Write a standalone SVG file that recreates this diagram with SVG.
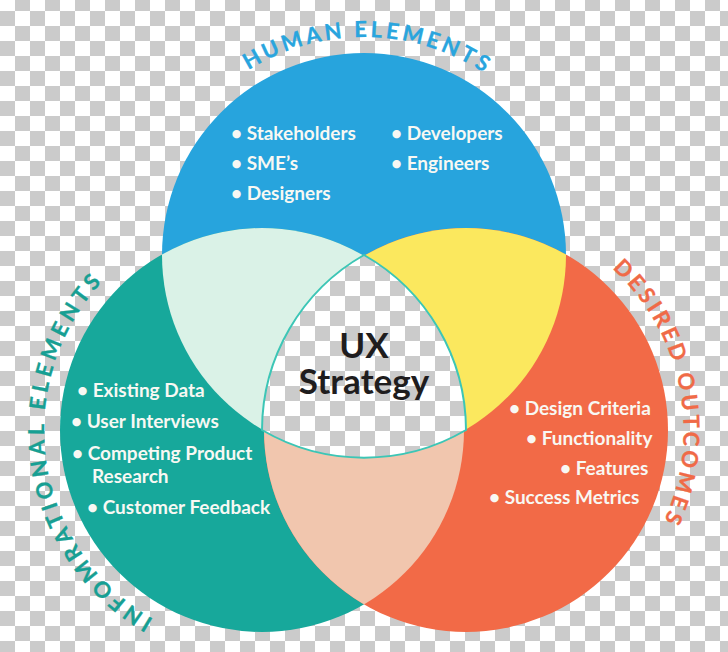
<svg xmlns="http://www.w3.org/2000/svg" xmlns:xlink="http://www.w3.org/1999/xlink" width="728" height="652" viewBox="0 0 728 652">
<style>
.bul{font-family:Lato,"Liberation Sans",sans-serif;font-weight:700;font-size:19px;fill:#f8f8f3}
.ttl{font-family:Lato,"Liberation Sans",sans-serif;font-weight:700;font-size:22px;stroke-width:0.3}
.ux{font-family:Lato,"Liberation Sans",sans-serif;font-weight:700;font-size:35px;fill:#1f1d1e;text-anchor:middle}
</style>
<defs>
<pattern id="checker" patternUnits="userSpaceOnUse" x="0" y="-4" width="30" height="30">
<rect width="30" height="30" fill="#ffffff"/>
<rect x="15" y="0" width="15" height="15" fill="#cbcbcb"/>
<rect x="0" y="15" width="15" height="15" fill="#cbcbcb"/>
</pattern>
<clipPath id="clipBlue"><circle cx="364" cy="255" r="202"/></clipPath>
<clipPath id="clipTeal"><circle cx="262" cy="430" r="202"/></clipPath>
<path id="arcHuman" d="M146,255 A218,218 0 0 1 582,255"/>
<path id="arcDesired" d="M416.95,217.59 A218,218 0 0 1 515.05,642.41"/>
<path id="arcInfo" d="M293.09,645.78 A218,218 0 0 1 230.91,214.22"/>
</defs>
<rect width="728" height="652" fill="url(#checker)"/>

<g id="circle-human">
<circle cx="364" cy="255" r="202" fill="#27a4dd"/>
</g>
<g id="circle-informational">
<circle cx="262" cy="430" r="202" fill="#17a89b"/>
</g>
<g id="circle-desired">
<circle cx="466" cy="430" r="202" fill="#f26a47"/>
</g>
<g id="overlaps">
<circle cx="262" cy="430" r="202" fill="#daf2e7" clip-path="url(#clipBlue)"/>
<circle cx="466" cy="430" r="202" fill="#fbe85e" clip-path="url(#clipBlue)"/>
<circle cx="466" cy="430" r="202" fill="#f1c6ae" clip-path="url(#clipTeal)"/>
</g>
<g id="center-ux">
<path d="M364,255 A202,202 0 0 1 466,430 A202,202 0 0 1 262,430 A202,202 0 0 1 364,255 Z" fill="url(#checker)" stroke="#3cc6b6" stroke-width="2"/>
<text class="ux" x="364" y="358">UX</text>
<text class="ux" x="364" y="394">Strategy</text>
</g>

<g id="labels-human">
<text class="ttl" fill="#29a5de" stroke="#29a5de" letter-spacing="3.4"><textPath xlink:href="#arcHuman" href="#arcHuman" startOffset="50.6%" text-anchor="middle">HUMAN ELEMENTS</textPath></text>
<text class="bul" x="231" y="140">• Stakeholders</text>
<text class="bul" x="231" y="170">• SME’s</text>
<text class="bul" x="231" y="200">• Designers</text>
<text class="bul" x="391" y="140">• Developers</text>
<text class="bul" x="391" y="170">• Engineers</text>
</g>
<g id="labels-desired">
<text class="ttl" fill="#f06a47" stroke="#f06a47" letter-spacing="3.6"><textPath xlink:href="#arcDesired" href="#arcDesired" startOffset="51%" text-anchor="middle">DESIRED OUTCOMES</textPath></text>
<text class="bul" x="509" y="415">• Design Criteria</text>
<text class="bul" x="526" y="445">• Functionality</text>
<text class="bul" x="560" y="475">• Features</text>
<text class="bul" x="489" y="504">• Success Metrics</text>
</g>
<g id="labels-informational">
<text class="ttl" fill="#179f93" stroke="#179f93" letter-spacing="4.3"><textPath xlink:href="#arcInfo" href="#arcInfo" startOffset="50%" text-anchor="middle">INFOMRATIONAL ELEMENTS</textPath></text>
<text class="bul" x="77" y="397">• Existing Data</text>
<text class="bul" x="71" y="428">• User Interviews</text>
<text class="bul" x="72" y="460">• Competing Product</text>
<text class="bul" x="92" y="483">Research</text>
<text class="bul" x="87" y="514">• Customer Feedback</text>
</g>
<g id="connectors"/>
</svg>
